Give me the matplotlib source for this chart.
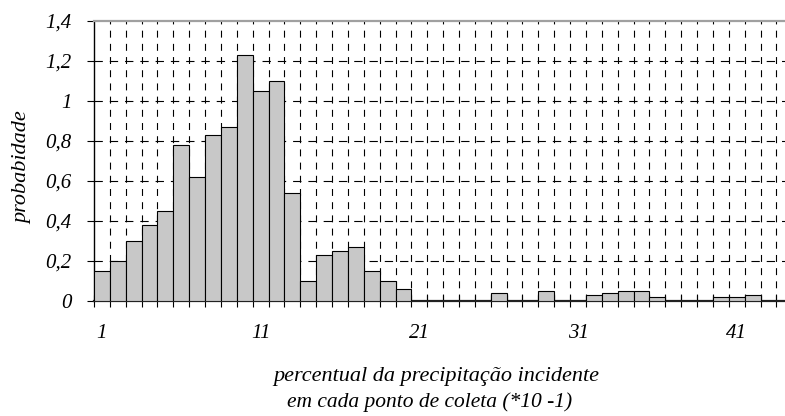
import numpy as np
import matplotlib.pyplot as plt
from matplotlib.ticker import FixedLocator, NullFormatter

# data
classes = list(range(1, 44))
prob = [0.15, 0.20, 0.30, 0.38, 0.45, 0.78, 0.62, 0.83, 0.87, 1.23,
        1.05, 1.10, 0.54, 0.10, 0.23, 0.25, 0.27, 0.15, 0.10, 0.06,
        0, 0, 0, 0, 0, 0.04, 0, 0, 0.05, 0,
        0, 0.03, 0.04, 0.05, 0.05, 0.02, 0, 0, 0, 0.02,
        0.02, 0.03, 0]
yticks = [0, 0.2, 0.4, 0.6, 0.8, 1.0, 1.2, 1.4]
ytick_labels = ['0', '0,2', '0,4', '0,6', '0,8', '1', '1,2', '1,4']
xtick_pos = [1, 11, 21, 31, 41]

plt.rcParams['font.family'] = 'Liberation Serif'
plt.rcParams['font.style'] = 'italic'
plt.rcParams['lines.scale_dashes'] = False

fig = plt.figure(figsize=(7.85, 4.16), dpi=100)
ax = fig.add_axes([94/785, 1-300.7/416, 691/785, 280/416])

ax.bar(classes, prob, width=1.0, color='#c8c8c8', edgecolor='black',
       linewidth=0.8, zorder=3)

# dashed grid
bounds = np.arange(0.5, 44, 1.0)
for b in bounds[1:]:
    ax.axvline(b, color='black', lw=0.8, ls=(0, (5, 4.5)), zorder=1)
for yv in yticks[1:-1]:
    ax.axhline(yv, color='black', lw=0.8, ls=(0, (6, 5)), zorder=1)

ax.set_xlim(0.5, 0.5 + 691/15.87)
ax.set_ylim(0, 1.4)

ax.xaxis.set_major_locator(FixedLocator(bounds))
ax.xaxis.set_major_formatter(NullFormatter())
ax.xaxis.set_minor_locator(FixedLocator(xtick_pos))
ax.set_xticklabels([str(v) for v in xtick_pos], minor=True)
ax.tick_params(axis='x', which='major', direction='inout', length=9,
               width=0.8, color='black')
ax.tick_params(axis='x', which='minor', length=0, pad=17, labelsize=15)

ax.set_yticks(yticks)
ax.set_yticklabels(ytick_labels)
ax.tick_params(axis='y', direction='out', length=5, width=0.8, pad=11,
               labelsize=15)

ax.spines['right'].set_visible(False)
ax.spines['top'].set_color('#a0a0a0')
ax.spines['top'].set_linewidth(1.6)
ax.spines['bottom'].set_color('#222222')
ax.spines['bottom'].set_linewidth(1.6)
ax.spines['left'].set_linewidth(1.0)

ax.set_ylabel('probabidade', fontsize=16)
ax.yaxis.set_label_coords(-0.089, 0.477)
fig.text(436.5/785, 1-377/416, 'percentual da precipitação incidente',
         ha='center', va='center', fontsize=16)
fig.text(430/785, 1-402/416, 'em cada ponto de coleta (*10 -1)',
         ha='center', va='center', fontsize=15.5)

fig.savefig('out.png', dpi=100)
